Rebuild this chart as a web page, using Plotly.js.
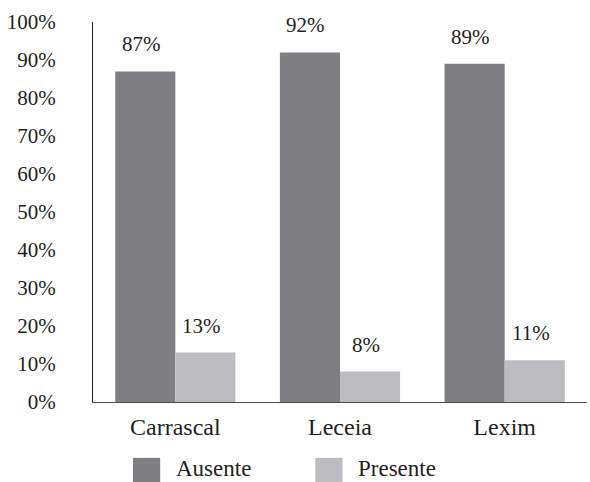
<!DOCTYPE html>
<html>
<head>
<meta charset="utf-8">
<script src="https://cdn.plot.ly/plotly-3.0.1.min.js"></script>
<style>html,body{margin:0;padding:0;background:#fff;}#chart{width:590px;height:482px;}</style>
</head>
<body>
<div id="chart"></div>
<script>
const categories = ["Carrascal", "Leceia", "Lexim"];
const seriesNames = ["Ausente", "Presente"];
const ausente = [0.87, 0.92, 0.89];
const presente = [0.13, 0.08, 0.11];
const yTickVals = [0, 0.1, 0.2, 0.3, 0.4, 0.5, 0.6, 0.7, 0.8, 0.9, 1.0];
const yTickText = ["0%", "10%", "20%", "30%", "40%", "50%", "60%", "70%", "80%", "90%", "100%"];

const colors = ["#7f7f83", "#bcbcc0"];
const FONT = "Liberation Serif";
const TXT = "#231f20";
const series = [ausente, presente];
const bargap = 0.27;
const barW = (1 - bargap) / 2;

const traces = series.map((vals, s) => ({
  type: "bar",
  name: seriesNames[s],
  x: categories,
  y: vals,
  marker: {color: colors[s]},
  showlegend: false,
  hoverinfo: "skip"
}));

const annotations = [];
series.forEach((vals, s) => {
  vals.forEach((v, i) => {
    annotations.push({
      xref: "x", yref: "y",
      x: i + (s === 0 ? -1 : 1) * barW / 2,
      y: v,
      text: Math.round(v * 100) + "%",
      showarrow: false,
      yanchor: "bottom",
      yshift: 13,
      xshift: -4,
      font: {family: FONT, size: 21, color: TXT}
    });
  });
});

const legendX = [0.081, 0.45];
const shapes = [];
seriesNames.forEach((n, s) => {
  shapes.push({
    type: "rect", xref: "paper", yref: "paper",
    x0: legendX[s], x1: legendX[s] + 0.055,
    y0: -0.147, y1: -0.215,
    fillcolor: colors[s], line: {width: 0}
  });
  annotations.push({
    xref: "paper", yref: "paper",
    x: legendX[s] + 0.082, y: -0.176,
    xanchor: "left", yanchor: "middle",
    text: n, showarrow: false,
    font: {family: FONT, size: 23, color: TXT}
  });
});

const layout = {
  width: 590, height: 482,
  margin: {l: 93, r: 3, t: 22, b: 80, pad: 0},
  paper_bgcolor: "#fff", plot_bgcolor: "#fff",
  bargap: bargap, bargroupgap: 0, barmode: "group",
  showlegend: false,
  font: {family: FONT, color: TXT},
  xaxis: {
    type: "category",
    showgrid: false, zeroline: false,
    showline: true, linecolor: "#4a4a4a", linewidth: 1,
    ticks: "", tickfont: {family: FONT, size: 24, color: TXT},
    ticklabelstandoff: 3,
    fixedrange: true
  },
  yaxis: {
    range: [0, 1],
    tickvals: yTickVals, ticktext: yTickText,
    showgrid: false, zeroline: false,
    showline: true, linecolor: "#231f20", linewidth: 1,
    ticks: "", tickfont: {family: FONT, size: 21, color: TXT},
    ticklabelstandoff: 32,
    fixedrange: true
  },
  shapes: shapes,
  annotations: annotations
};

Plotly.newPlot("chart", traces, layout, {displayModeBar: false});
</script>
</body>
</html>
